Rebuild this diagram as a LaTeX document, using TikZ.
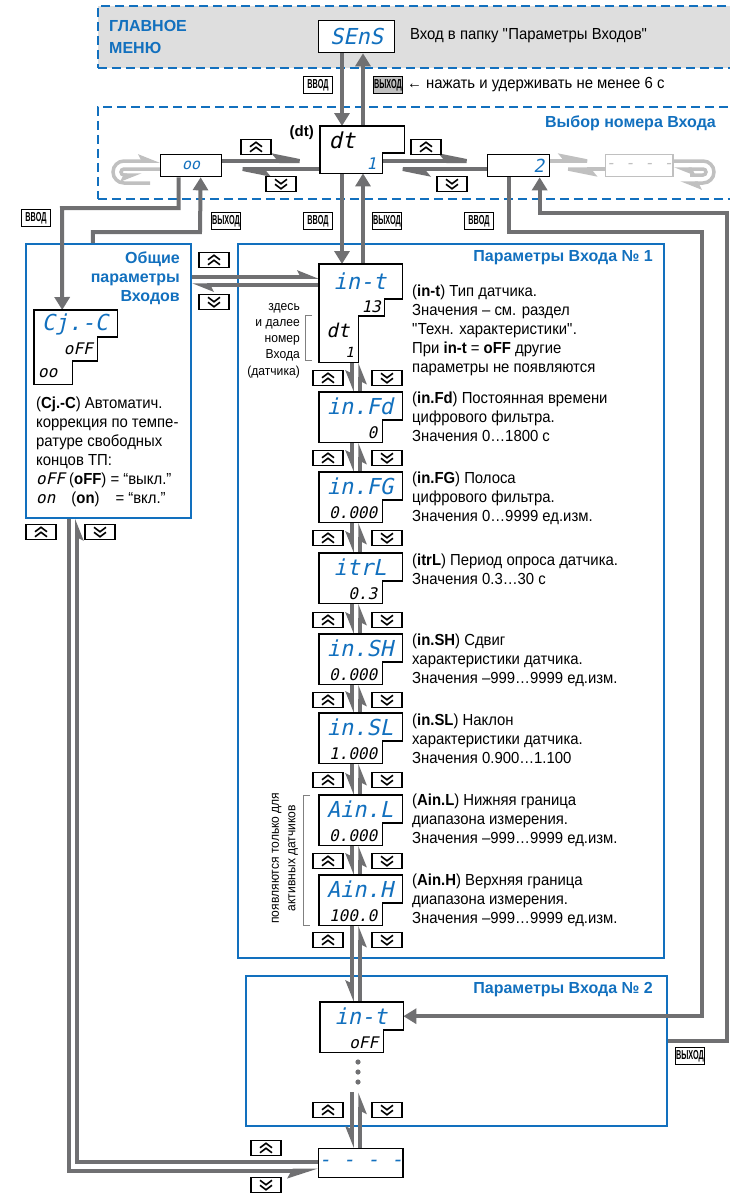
\documentclass[tikz,border=0pt]{standalone}
\usepackage{fontspec}
\setmainfont{Liberation Sans}[FakeStretch=0.93]
\newfontfamily\titlefont{Liberation Sans}
\newfontfamily\keyfont{Liberation Sans}[FakeStretch=0.56]
\newfontfamily\segfont{DejaVu Sans Mono}[FakeSlant=0.22]
\usetikzlibrary{arrows.meta,calc,positioning}

\definecolor{owenblue}{RGB}{18,112,190}
\definecolor{linegray}{RGB}{112,112,114}
\definecolor{loopgray}{RGB}{192,192,192}
\definecolor{menugray}{RGB}{222,222,222}

\pgfdeclarelayer{back}
\pgfdeclarelayer{conn}
\pgfsetlayers{back,conn,main}

\tikzset{
  barbL/.tip={Stealth[harpoon,length=17pt,width=13pt,inset=3pt]},
  barbR/.tip={Stealth[harpoon,swap,length=17pt,width=13pt,inset=3pt]},
  longbarb/.tip={Stealth[harpoon,length=38pt,width=15pt,inset=6pt]},
  longbarbR/.tip={Stealth[harpoon,swap,length=24pt,width=15pt,inset=4pt]},
  fullhead/.tip={Triangle[length=13pt,width=15pt]},
}

% double chevrons on the arrow keys
\newcommand\chevup{\tikz[x=1pt,y=1pt,line width=1.6pt]{\draw (0,0)--(6,4.5)--(12,0) (0,5)--(6,9.5)--(12,5);}}
\newcommand\chevdn{\tikz[x=1pt,y=1pt,line width=1.6pt]{\draw (0,9.5)--(6,5)--(12,9.5) (0,4.5)--(6,0)--(12,4.5);}}

% two-row display: name, x, y, upper text, lower text
\newcommand\paramdisp[5]{%
  \node[anchor=north west,minimum width=83pt,minimum height=50pt] (#1) at (#2,#3) {};
  \draw[dispedge] (#1.north west) -- (#1.north east) -- ++(0,28) -- ++(-20,0) |- (#1.south west) -- cycle;
  \node[segtop] (#1-a) at ($(#1.north west)+(41,14)$) {#4};
  \node[segbot,anchor=east] (#1-b) at ($(#1.south east)+(-25,-10)$) {#5};
}
\newcommand\keypair[2]{%
  \node[key] (#1u) at (328,#2) {\chevup};
  \node[key] (#1d) at (387,#2) {\chevdn};
}

\begin{document}
\begin{tikzpicture}[x=1pt,y=-1pt,
  every node/.style={inner sep=0pt,font=\fontsize{16}{19}\selectfont},
  gline/.style={draw=linegray,line width=4pt},
  lgline/.style={draw=loopgray,line width=3.5pt},
  blueframe/.style={draw=owenblue,line width=1.8pt},
  dashframe/.style={draw=owenblue,line width=1.8pt,dash pattern=on 9pt off 5pt},
  title/.style={text=owenblue,font=\fontsize{16}{19}\titlefont\bfseries},
  dispedge/.style={draw=black,line width=1.3pt,fill=white},
  dispbox/.style={dispedge,anchor=north west},
  segtop/.style={text=owenblue,font=\fontsize{22}{22}\segfont},
  segbot/.style={text=black,font=\fontsize{16}{16}\segfont},
  key/.style={draw=black,line width=1.2pt,fill=white,minimum width=30pt,minimum height=15pt},
  wkey/.style={key,minimum width=29pt,minimum height=17pt,font=\fontsize{13}{13}\keyfont\bfseries},
  desc/.style={anchor=north west,align=left},
  bracket/.style={draw=gray,line width=0.8pt},
]
\useasboundingbox (0,0) rectangle (729,1195);
\coordinate (cl) at (352,0);
\coordinate (cr) at (360,0);
\coordinate (ca) at (342,0);
\coordinate (cb) at (363,0);
\coordinate (ra) at (0,161);
\coordinate (rb) at (0,169);
\coordinate (rc) at (0,277);
\coordinate (rd) at (0,285);

% frames
\begin{pgfonlayer}{back}
  \node[dashframe,fill=menugray,anchor=north west,minimum width=640pt,minimum height=62pt] (menu) at (97,5) {};
  \node[dashframe,anchor=north west,minimum width=640pt,minimum height=92pt] (sel) at (97,106) {};
  \node[blueframe,anchor=north west,minimum width=165pt,minimum height=274pt] (gen) at (25,243) {};
  \node[blueframe,anchor=north west,minimum width=426pt,minimum height=714pt] (Pone) at (237,243) {};
  \node[blueframe,anchor=north west,minimum width=421pt,minimum height=150pt] (Ptwo) at (245,975) {};
\end{pgfonlayer}

\node[title,anchor=north west,align=left,font=\fontsize{16}{22}\titlefont\bfseries] (menut) at (109,20) {ГЛАВНОЕ\\МЕНЮ};
\node[title,anchor=east] (selt) at (716,123) {Выбор номера Входа};
\node[title,anchor=north east,align=right] (gent) at (180,252) {Общие\\параметры\\Входов};
\node[title,anchor=east] (Ponet) at (653,258) {Параметры Входа № 1};
\node[title,anchor=east] (Ptwot) at (653,990) {Параметры Входа № 2};

% displays
\node[dispbox,minimum width=76pt,minimum height=32pt,segtop] (sens) at (318,20) {SEnS};
\node[anchor=west] (sensd) at (410,36) {Вход в папку \textquotedbl Параметры Входов\textquotedbl};

\node[anchor=north west,minimum width=84pt,minimum height=47pt] (dt) at (320,126) {};
\draw[dispedge] (dt.north west) -- (dt.north east) -- ++(0,27) -- ++(-22,0) |- (dt.south west) -- cycle;
\node[segtop,text=black] (dt-a) at ($(dt.north west)+(22,14)$) {dt};
\node[segbot,text=owenblue,anchor=east] (dt-b) at ($(dt.south east)+(-28,-10)$) {1};
\coordinate (dtr) at ($(dt.south east)+(-22,0)$);
\node[anchor=east,font=\fontsize{15}{15}\titlefont\bfseries] (dtl) at (314,133) {(dt)};

\node[dispbox,minimum width=61pt,minimum height=22pt,text=owenblue,font=\fontsize{15}{15}\segfont] (noo) at (160,154) {oo};
\node[dispbox,minimum width=62pt,minimum height=22pt] (ntwo) at (487,154) {};
\node[anchor=east,text=owenblue,font=\fontsize{18}{18}\segfont] (ntwo-a) at ($(ntwo.east)+(-6,0)$) {2};
\node[dispbox,draw=loopgray,minimum width=61pt,minimum height=22pt,text=loopgray,font=\fontsize{16}{16}\segfont] (nmore) at (605,154) {- - - -};

\node[anchor=north west,minimum width=83pt,minimum height=74pt] (cjc) at (34,310) {};
\draw[dispedge] (cjc.north west) -- (cjc.north east) -- ++(0,27) -- ++(-20,0) -- ++(0,24) -- ++(-25,0) |- (cjc.south west) -- cycle;
\node[segtop] (cjc-a) at (75,324) {Cj.-C};
\node[segbot,anchor=east] (cjc-b) at (93,349) {oFF};
\node[segbot,anchor=west] (cjc-c) at (38,373) {oo};

\node[anchor=north west,minimum width=83pt,minimum height=98pt] (inT) at (319,264) {};
\draw[dispedge] (inT.north west) -- (inT.north east) -- ++(0,35) -- ++(-18,0) -- ++(0,17) -- ++(-26,0) |- (inT.south west) -- cycle;
\node[segtop] (inT-a) at ($(inT.north west)+(41,17)$) {in-t};
\node[segbot,anchor=east] (inT-b) at (381,307) {13};
\node[segtop,text=black,font=\fontsize{19}{19}\segfont] (inT-c) at (338,330) {dt};
\node[segbot,anchor=east,font=\fontsize{14}{14}\segfont] (inT-d) at (354,352) {1};

\paramdisp{inFd}{319}{392}{in.Fd}{0}
\paramdisp{inFG}{319}{472}{in.FG}{0.000}
\paramdisp{itrL}{319}{553}{itrL}{0.3}
\paramdisp{inSH}{319}{634}{in.SH}{0.000}
\paramdisp{inSL}{319}{713}{in.SL}{1.000}
\paramdisp{AinL}{319}{795}{Ain.L}{0.000}
\paramdisp{AinH}{319}{875}{Ain.H}{100.0}
\paramdisp{inTb}{320}{1002}{in-t}{oFF}

\node[minimum width=6pt,minimum height=40pt] (dots) at (358,1072) {};
\foreach \d in {1062,1072,1082} \fill[linegray] (358,\d) circle (2.6pt);

\node[dispbox,minimum width=83pt,minimum height=29pt,text=owenblue,font=\fontsize{20}{20}\segfont] (nend) at (318,1148) {- - - -};

% texts
\node[desc] (dInt) at (412,285) {(\textbf{in-t}) Тип датчика.\\Значения – см. раздел\\\textquotedbl Техн. характеристики\textquotedbl.\\При \textbf{in-t} = \textbf{oFF} другие\\параметры не появляются};
\node[desc] (dFd) at (412,392) {(\textbf{in.Fd}) Постоянная времени\\цифрового фильтра.\\Значения 0…1800 с};
\node[desc] (dFG) at (412,472) {(\textbf{in.FG}) Полоса\\цифрового фильтра.\\Значения 0…9999 ед.изм.};
\node[desc] (dtrL) at (412,554) {(\textbf{itrL}) Период опроса датчика.\\Значения 0.3…30 с};
\node[desc] (dSH) at (412,634) {(\textbf{in.SH}) Сдвиг\\характеристики датчика.\\Значения –999…9999 ед.изм.};
\node[desc] (dSL) at (412,714) {(\textbf{in.SL}) Наклон\\характеристики датчика.\\Значения 0.900…1.100};
\node[desc] (dAL) at (412,794) {(\textbf{Ain.L}) Нижняя граница\\диапазона измерения.\\Значения –999…9999 ед.изм.};
\node[desc] (dAH) at (412,874) {(\textbf{Ain.H}) Верхняя граница\\диапазона измерения.\\Значения –999…9999 ед.изм.};
\node[desc] (dcjc) at (36,397) {(\textbf{Cj.-C}) Автоматич.\\коррекция по темпе-\\ратуре свободных\\концов ТП:\\{\segfont oFF} (\textbf{oFF}) = “выкл.”\\{\segfont on}\quad(\textbf{on})\quad= “вкл.”};

\node[anchor=north east,align=right,font=\fontsize{13}{16.2}\selectfont] (numnote) at (300,303) {здесь\\и далее\\номер\\Входа\\(датчика)};
\draw[bracket] (312,315) -| (305,360) -- (312,360);
\node[rotate=90,align=center,font=\fontsize{13}{16.5}\selectfont] (actnote) at (285,858) {появляются только для\\активных датчиков};
\draw[bracket] (310,795) -| (303,925) -- (310,925);

% keys
\node[wkey] (kin0) at (318,85) {ВВОД};
\node[wkey,fill=loopgray] (kout0) at (388,85) {ВЫХОД};
\node[anchor=west] (holdd) at (407,85) {← нажать и удерживать не менее 6 с};
\node[wkey] (kin1) at (36,218) {ВВОД};
\node[wkey] (kout1) at (226,221) {ВЫХОД};
\node[wkey] (kin2) at (318,221) {ВВОД};
\node[wkey] (kout2) at (387,221) {ВЫХОД};
\node[wkey] (kin3) at (479,221) {ВВОД};
\node[wkey] (kout3) at (690,1056) {ВЫХОД};

\node[key] (upA) at (256,147) {\chevup};
\node[key] (dnA) at (281,184) {\chevdn};
\node[key] (upB) at (426,147) {\chevup};
\node[key] (dnB) at (452,184) {\chevdn};
\node[key] (genu) at (214,260) {\chevup};
\node[key] (gend) at (214,302) {\chevdn};
\node[key] (genbu) at (41,532) {\chevup};
\node[key] (genbd) at (100,532) {\chevdn};
\node[key] (endu) at (266,1148) {\chevup};
\node[key] (endd) at (266,1185) {\chevdn};
\keypair{k1}{378}
\keypair{k2}{458}
\keypair{k3}{538}
\keypair{k4}{620}
\keypair{k5}{700}
\keypair{k6}{780}
\keypair{k7}{861}
\keypair{k8}{940}
\keypair{k9}{1110}

% connectors
\begin{pgfonlayer}{conn}
  \draw[gline,-{fullhead}] (sens.south -| ca) -- (dt.north -| ca);
  \draw[gline,-{fullhead}] (dt.north -| cb) -- (sens.south -| cb);
  \draw[gline,-{fullhead}] (dt.south -| ca) -- (inT.north -| ca);
  \draw[gline,-{fullhead}] (inT.north -| cb) -- (dt.south -| cb);

  \draw[gline,-{longbarb}] (noo.east |- ra) -- (dt.west |- ra);
  \draw[gline,-{longbarb}] (dt.west |- rb) -- (noo.east |- rb);
  \draw[gline,-{longbarb}] (dtr |- ra) -- (ntwo.west |- ra);
  \draw[gline,-{longbarb}] (ntwo.west |- rb) -- (dtr |- rb);
  \draw[lgline,-{longbarb}] (ntwo.east |- ra) -- (nmore.west |- ra);
  \draw[lgline,-{longbarb}] (nmore.west |- rb) -- (ntwo.east |- rb);
  \draw[lgline,-{barbL},rounded corners=11pt] (150,183) -- (113,183) -- (113,161) -- (noo.west |- ra);
  \draw[lgline,-{barbR},rounded corners=3pt] (noo.west |- rb) -- (121,169) -- (121,175) -- (142,175);
  \draw[lgline,-{barbL},rounded corners=11pt] (nmore.east |- ra) -- (714,161) -- (714,183) -- (680,183);
  \draw[lgline,-{barbL},rounded corners=3pt] (690,175) -- (706,175) -- (706,169) -- (nmore.east |- rb);

  \draw[gline,-{barbL}] (gen.east |- rc) -- (inT.west |- rc);
  \draw[gline,-{barbL}] (inT.west |- rd) -- (gen.east |- rd);

  \foreach \a/\b in {inT/inFd,inFd/inFG,inFG/itrL,itrL/inSH,inSH/inSL,inSL/AinL,AinL/AinH,AinH/inTb,dots/nend}{
    \draw[gline,-{barbR}] (\a.south -| cl) -- (\b.north -| cl);
    \draw[gline,-{barbR}] (\b.north -| cr) -- (\a.south -| cr);
  }

  \draw[gline,-{fullhead}] ([xshift=-12.5pt]noo.south) |- (62,208) -- ([xshift=-13.5pt]cjc.north);
  \draw[gline,-{fullhead}] ([xshift=-15.5pt]gen.north) |- (200,232) -- ([xshift=9.5pt]noo.south);
  \draw[gline,-{fullhead}] ([xshift=-10pt]ntwo.south) |- (702,232) |- ([yshift=11pt]inTb.east);
  \draw[gline,-{fullhead}] ([yshift=10pt]Ptwo.east) -| (727,213) -| ([xshift=21pt]ntwo.south);
  \draw[gline,-{barbR}] ([yshift=1.5pt]nend.west) -| ([xshift=-31.5pt]gen.south);
  \draw[gline,-{longbarbR}] ([xshift=-39.5pt]gen.south) |- ([yshift=-7.5pt]nend.west);
\end{pgfonlayer}
\end{tikzpicture}
\end{document}
